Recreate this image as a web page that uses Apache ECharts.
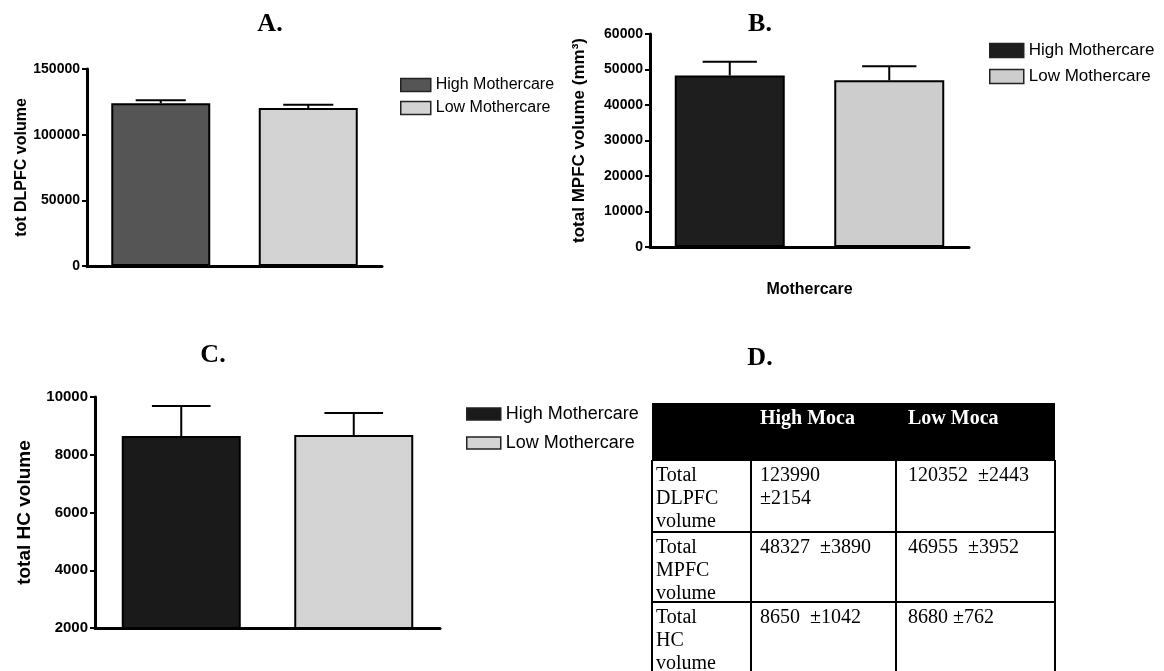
<!DOCTYPE html>
<html>
<head>
<meta charset="utf-8">
<script src="https://cdn.jsdelivr.net/npm/echarts@6/dist/echarts.min.js"></script>
<style>html,body{margin:0;padding:0;background:#fff}#c{width:1164px;height:671px}</style>
</head>
<body>
<div id="c"></div>
<script>
// ---- data ----
const categories = ['High Mothercare', 'Low Mothercare'];
const dlpfcMean = [123990, 120352];
const dlpfcSE = [2154, 2443];
const mpfcMean = [48327, 46955];
const mpfcSE = [3890, 3952];
const hcMean = [8650, 8680];
const hcSE = [1042, 762];
const panelTitles = ['A.', 'B.', 'C.', 'D.'];
const yNames = ['tot DLPFC volume', 'total MPFC volume (mm\u00B3)', 'total HC volume'];
const xName = 'Mothercare';
const tableHeader = ['', 'High Moca', 'Low Moca'];
const tableRowLabels = ['Total\nDLPFC\nvolume', 'Total\nMPFC\nvolume', 'Total\nHC\nvolume'];
const tableSeparators = [['\n', '  '], ['  ', '  '], ['  ', ' ']];

// ---- layout ----
const panels = [
  {grid:{left:87, top:69, width:295, height:197}, min:0, max:150000, interval:50000, mean:dlpfcMean, se:dlpfcSE,
   barW:99, colors:['#555555','#d3d3d3'], labelSize:14, nameSize:16, nameGap:55, xName:null,
   legend:{left:400, top:77, itemWidth:30, itemHeight:13, itemGap:7, fontSize:16}},
  {grid:{left:650, top:34, width:319, height:213}, min:0, max:60000, interval:10000, mean:mpfcMean, se:mpfcSE,
   barW:110, colors:['#1e1e1e','#cdcdcd'], labelSize:14, nameSize:17, nameGap:62, xName:xName,
   legend:{left:989, top:42, itemWidth:34, itemHeight:14, itemGap:9, fontSize:17}},
  {grid:{left:95, top:397, width:345, height:231}, min:2000, max:10000, interval:2000, mean:hcMean, se:hcSE,
   barW:119, colors:['#1a1a1a','#d4d4d4'], labelSize:15, nameSize:19, nameGap:61, xName:null,
   legend:{left:466, top:405, itemWidth:34, itemHeight:12, itemGap:11, fontSize:18}}
];

const SANS = 'Liberation Sans';
const SERIF = 'Liberation Serif';

const grids = [], xAxes = [], yAxes = [], series = [], legends = [];
panels.forEach((p, i) => {
  grids.push(p.grid);
  xAxes.push({
    type:'category', gridIndex:i, data:categories,
    name: p.xName || '', nameLocation:'middle', nameGap:35,
    nameTextStyle:{fontFamily:SANS, fontWeight:'bold', fontSize:16, color:'#000'},
    axisLine:{lineStyle:{color:'#000', width:3}},
    axisTick:{alignWithLabel:true, length:6, lineStyle:{color:'#000', width:2}},
    axisLabel:{show:false}
  });
  yAxes.push({
    type:'value', gridIndex:i, min:p.min, max:p.max, interval:p.interval,
    name:yNames[i], nameLocation:'middle', nameGap:p.nameGap,
    nameTextStyle:{fontFamily:SANS, fontWeight:'bold', fontSize:p.nameSize, color:'#000'},
    axisLine:{show:true, lineStyle:{color:'#000', width:3}},
    axisTick:{show:true, length:5, lineStyle:{color:'#000', width:2}},
    axisLabel:{fontFamily:SANS, fontWeight:'bold', fontSize:p.labelSize, color:'#000', margin:7,
               formatter:(v) => String(v)},
    splitLine:{show:false}
  });
  categories.forEach((name, k) => {
    const d = categories.map((c, j) => j === k ? p.mean[k] : '-');
    series.push({
      type:'bar', name:name, xAxisIndex:i, yAxisIndex:i, data:d,
      barWidth:p.barW, barGap:'-100%',
      itemStyle:{color:p.colors[k], borderColor:'#000', borderWidth:2},
      emphasis:{disabled:true}, animation:false
    });
  });
  series.push({
    type:'custom', name:'err'+i, xAxisIndex:i, yAxisIndex:i,
    data: categories.map((c, k) => [k, p.mean[k], p.se[k]]),
    renderItem:(params, api) => {
      const x = api.value(0), m = api.value(1), e = api.value(2);
      const base = api.coord([x, m]);
      const top = api.coord([x, m + e]);
      const half = api.size([1, 0])[0] * 0.17;
      const st = {stroke:'#000', lineWidth:2};
      return {type:'group', children:[
        {type:'line', shape:{x1:base[0], y1:base[1], x2:top[0], y2:top[1]}, style:st},
        {type:'line', shape:{x1:top[0]-half, y1:top[1], x2:top[0]+half, y2:top[1]}, style:st}
      ]};
    },
    z:5, animation:false, silent:true
  });
  legends.push({
    orient:'vertical', left:p.legend.left, top:p.legend.top, padding:0,
    itemWidth:p.legend.itemWidth, itemHeight:p.legend.itemHeight, itemGap:p.legend.itemGap,
    icon:'rect', selectedMode:false,
    textStyle:{fontFamily:SANS, fontSize:p.legend.fontSize, color:'#000'},
    data: categories.map((c, k) => ({name:c, itemStyle:{color:p.colors[k], borderColor:'#222', borderWidth:1.5}}))
  });
});

// ---- titles & table (graphic) ----
const titlePos = [[270, 24], [760, 24], [213, 355], [760, 358]];
const graphic = panelTitles.map((t, i) => ({
  type:'text', x:titlePos[i][0], y:titlePos[i][1],
  style:{text:t, font:'bold 26px ' + SERIF, fill:'#000', align:'center', verticalAlign:'middle'}
}));

const colEdges = [652, 751, 896, 1055];
const rowEdges = [403, 460, 532, 602, 690];
const textPad = [4, 9, 12];
graphic.push({type:'rect', shape:{x:colEdges[0], y:rowEdges[0], width:colEdges[3]-colEdges[0], height:rowEdges[1]-rowEdges[0]}, style:{fill:'#000'}});
tableHeader.forEach((h, c) => {
  if (!h) return;
  graphic.push({type:'text', x:colEdges[c]+textPad[c], y:rowEdges[0]+6,
    style:{text:h, font:'bold 20px ' + SERIF, fill:'#fff', verticalAlign:'top'}});
});
for (let r = 1; r < rowEdges.length - 1; r++) {
  graphic.push({type:'line', shape:{x1:colEdges[0], y1:rowEdges[r], x2:colEdges[3], y2:rowEdges[r]}, style:{stroke:'#000', lineWidth:2}});
}
colEdges.forEach(x => {
  graphic.push({type:'line', shape:{x1:x, y1:rowEdges[1], x2:x, y2:rowEdges[4]}, style:{stroke:'#000', lineWidth:2}});
});
const tableMeans = [dlpfcMean, mpfcMean, hcMean];
const tableSEs = [dlpfcSE, mpfcSE, hcSE];
tableRowLabels.forEach((lab, r) => {
  const cells = [lab, tableMeans[r][0] + tableSeparators[r][0] + '\u00B1' + tableSEs[r][0],
                 tableMeans[r][1] + tableSeparators[r][1] + '\u00B1' + tableSEs[r][1]];
  cells.forEach((txt, c) => {
    graphic.push({type:'text', x:colEdges[c]+textPad[c], y:rowEdges[r+1]+4,
      style:{text:txt, font:'20px ' + SERIF, fill:'#000', verticalAlign:'top', lineHeight:23}});
  });
});

const chart = echarts.init(document.getElementById('c'), null, {renderer:'canvas'});
chart.setOption({
  animation:false,
  backgroundColor:'#fff',
  grid:grids, xAxis:xAxes, yAxis:yAxes, series:series, legend:legends,
  graphic:graphic
});
</script>
</body>
</html>
